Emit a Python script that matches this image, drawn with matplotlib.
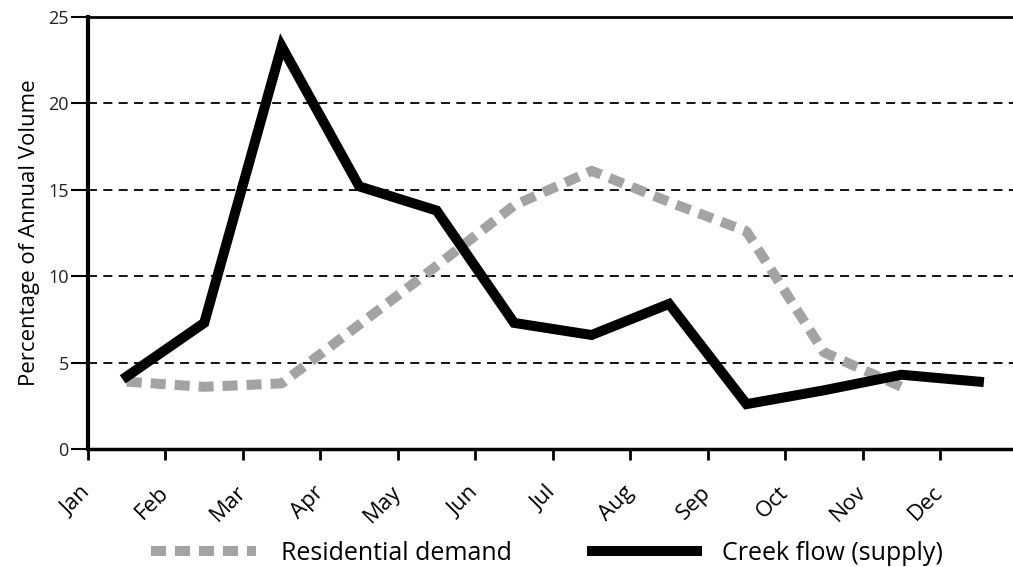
import matplotlib.pyplot as plt
import numpy as np

months = ['Jan', 'Feb', 'Mar', 'Apr', 'May', 'Jun', 'Jul', 'Aug', 'Sep', 'Oct', 'Nov', 'Dec']
# percent of annual volume, plotted at mid-month
demand = [3.9, 3.6, 3.8, 7.2, 10.6, 14.1, 16.1, 14.3, 12.6, 5.6, 3.6]
creek = [4.2, 7.3, 23.3, 15.2, 13.8, 7.3, 6.6, 8.4, 2.6, 3.4, 4.3, 3.9]

plt.rcParams['font.family'] = ['Open Sans', 'DejaVu Sans']

fig = plt.figure(figsize=(10.13, 5.67), dpi=100)
ax = fig.add_axes([0.0869, 0.208, 0.9131, 0.762])

xd = np.arange(len(demand)) + 0.5
xc = np.arange(len(creek)) + 0.5

for y in [5, 10, 15, 20]:
    ax.axhline(y, color='black', lw=1.3, ls=(0, (5, 3.5)), zorder=1)

ax.plot(xd, demand, color='#a3a3a3', lw=7.2, ls=(0, (1.5, 0.9)),
        dash_capstyle='butt', solid_joinstyle='miter', label='Residential demand', zorder=2)
ax.plot(xc, creek, color='black', lw=7.2, solid_joinstyle='miter',
        label='Creek flow (supply)', zorder=3)

ax.set_xlim(0, 11.94)
ax.set_ylim(0, 25)
ax.set_xticks(np.arange(12))
ax.set_xticklabels(months, rotation=45, ha='right', va='center', rotation_mode='anchor', fontsize=16)
ax.set_yticks([0, 5, 10, 15, 20, 25])
ax.tick_params(axis='y', length=12, width=1.5, labelsize=13, pad=2, labelcolor='#222222')
ax.tick_params(axis='x', length=8, width=2, pad=21)

ax.spines['right'].set_visible(False)
ax.spines['left'].set_linewidth(3)
ax.spines['bottom'].set_linewidth(2.5)
ax.spines['top'].set_linewidth(2)

ax.set_ylabel('Percentage of Annual Volume', fontsize=16, labelpad=6)

fig.legend(loc='lower center', bbox_to_anchor=(0.54, -0.038), ncol=2, frameon=False,
           fontsize=18, handlelength=4.2, columnspacing=3.2, handletextpad=1.0)

fig.savefig('out.png', dpi=100)
